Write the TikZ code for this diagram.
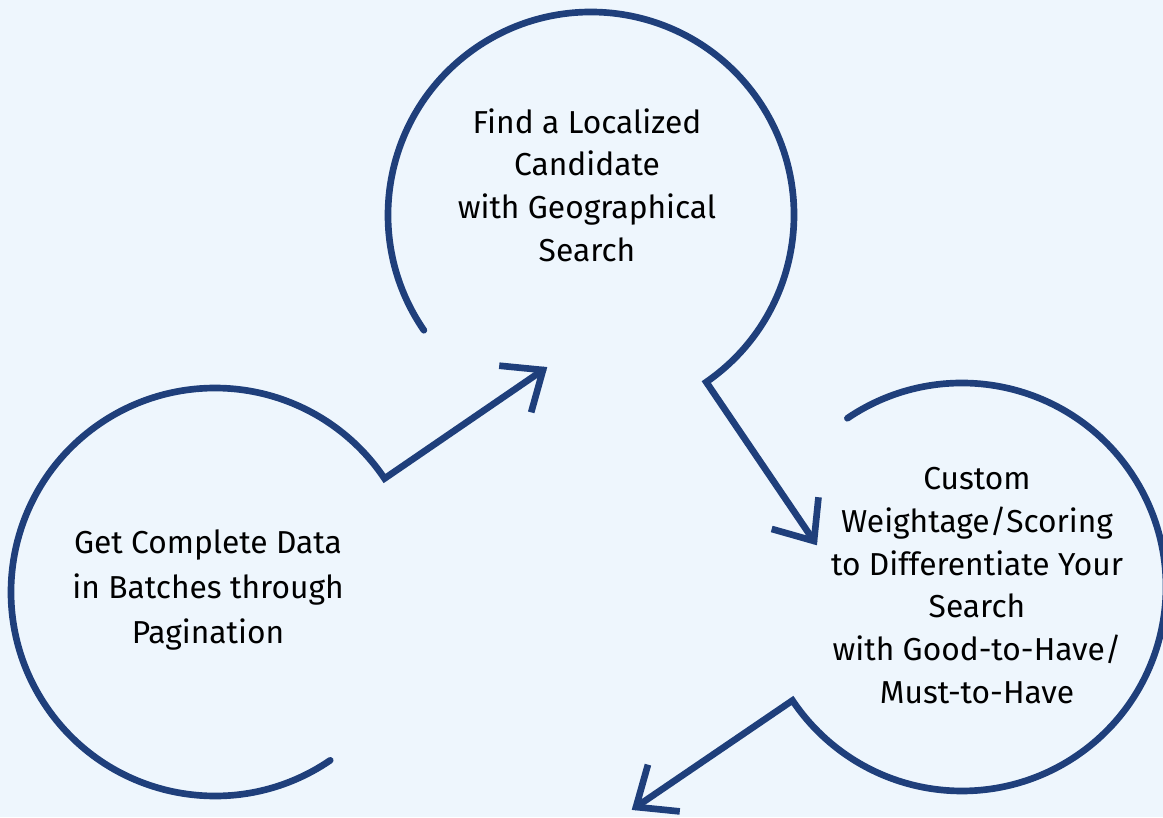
\documentclass[tikz,border=0pt]{standalone}
\usepackage{fontspec}
\setmainfont{Fira Sans}
\usetikzlibrary{calc}
\definecolor{bgc}{HTML}{EEF6FD}
\definecolor{ringc}{HTML}{1F3F7B}
\begin{document}
\begin{tikzpicture}[x=0.75pt,y=0.75pt,
  ring/.style={draw=ringc,line width=5pt,line cap=round,line join=miter},
  head/.style={draw=ringc,line width=5pt,line cap=butt,line join=miter,miter limit=10},
  txt/.style={align=center,text=black,inner sep=0pt,font=\fontsize{23.8}{32}\selectfont}]
\useasboundingbox (0,0) rectangle (1163,817);
\fill[bgc] (0,0) rectangle (1163,817);
% circle centres
\coordinate (ctop) at (591,602);
\coordinate (cleft) at (215,225);
\coordinate (cright) at (962,230);
% free ends of the rings
\coordinate (stop) at ($(ctop)+(214.6:203)$);
\coordinate (sleft) at ($(cleft)+(-55.6:204)$);
\coordinate (sright) at ($(cright)+(124.2:204)$);
% corners where rings turn into arrows
\coordinate (ktop) at ($(ctop)+(-55.4:203)$);
\coordinate (kleft) at ($(cleft)+(33.8:204)$);
\coordinate (kright) at ($(cright)+(213.8:204)$);
% arrow tips
\coordinate (ttop) at (814,276);
\coordinate (tleft) at (543,447);
\coordinate (tright) at (636,10);
% rings with shafts
\draw[ring] (stop) arc[start angle=214.6,end angle=-55.4,radius=203] -- (ttop);
\draw[ring] (sleft) arc[start angle=-55.6,end angle=-326.2,radius=204] -- (tleft);
\draw[ring] (sright) arc[start angle=124.2,end angle=-146.2,radius=204] -- (tright);
% arrow heads
\draw[head] ($(ttop)!33pt!40:(ktop)$) -- (ttop) -- ($(ttop)!33pt!-40:(ktop)$);
\draw[head] ($(tleft)!33pt!40:(kleft)$) -- (tleft) -- ($(tleft)!33pt!-40:(kleft)$);
\draw[head] ($(tright)!33pt!40:(kright)$) -- (tright) -- ($(tright)!33pt!-40:(kright)$);
% texts
\node[txt] (ntop) at (587,632) {Find a Localized\\Candidate\\with Geographical\\Search};
\node[txt,font=\fontsize{23.8}{33.75}\selectfont] (nleft) at (208,227.5) {Get Complete Data\\in Batches through\\Pagination};
\node[txt] (nright) at (977,231.5) {Custom\\Weightage/Scoring\\to Differentiate Your\\Search\\with Good-to-Have/\\Must-to-Have};
\end{tikzpicture}
\end{document}
